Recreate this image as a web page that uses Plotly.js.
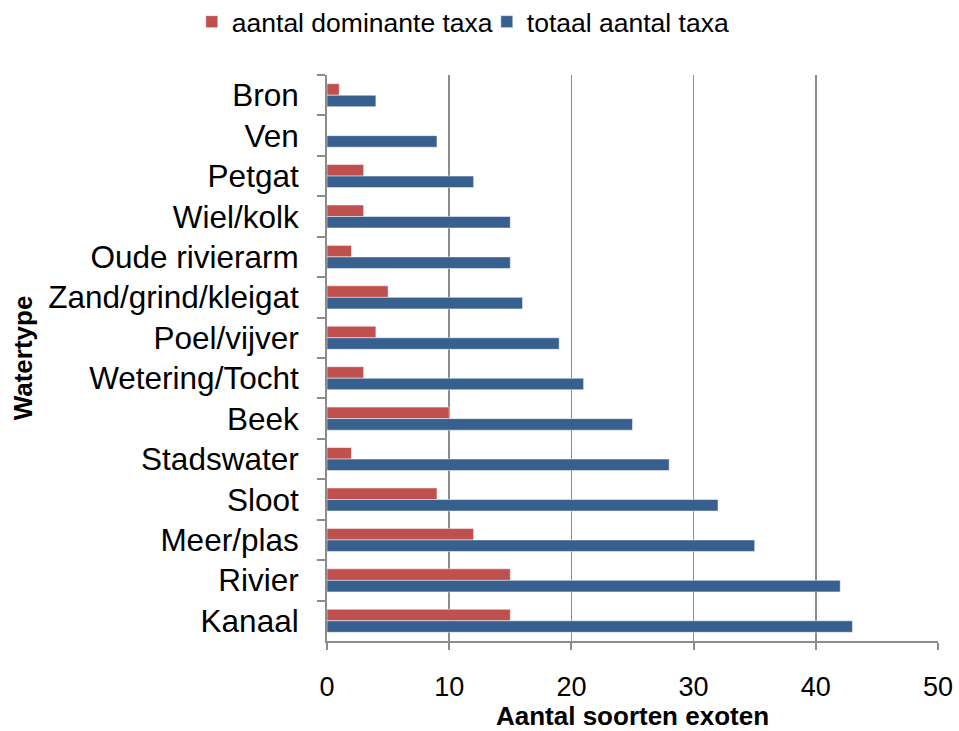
<!DOCTYPE html>
<html>
<head>
<meta charset="utf-8">
<script src="https://cdn.plot.ly/plotly-3.0.1.min.js"></script>
<style>html,body{margin:0;padding:0;background:#fff;}#chart{width:959px;height:731px;}</style>
</head>
<body>
<div id="chart"></div>
<script>
const categories = ["Bron","Ven","Petgat","Wiel/kolk","Oude rivierarm","Zand/grind/kleigat","Poel/vijver","Wetering/Tocht","Beek","Stadswater","Sloot","Meer/plas","Rivier","Kanaal"];
const dominant = [1,0,3,3,2,5,4,3,10,2,9,12,15,15];
const totaal = [4,9,12,15,15,16,19,21,25,28,32,35,42,43];
const seriesNames = ["aantal dominante taxa","totaal aantal taxa"];
const xTicks = [0,10,20,30,40,50];

const font = "Liberation Sans, Arial, sans-serif";
const traces = [
  {type:"bar", orientation:"h", name:seriesNames[0], y:categories, x:dominant,
   marker:{color:"#C0504D", line:{color:"#ffffff", width:0.5}}},
  {type:"bar", orientation:"h", name:seriesNames[1], y:categories, x:totaal,
   marker:{color:"#37608F", line:{color:"#ffffff", width:0.5}}}
];
const layout = {
  width:959, height:731,
  margin:{l:327, r:21, t:75, b:90},
  paper_bgcolor:"#fff", plot_bgcolor:"#fff",
  font:{family:font, color:"#000"},
  barmode:"group", bargap:0.43, bargroupgap:0,
  showlegend:true,
  legend:{orientation:"h", xref:"container", yref:"container", x:0.2, y:0.97, xanchor:"left", yanchor:"middle",
          font:{size:26.5, family:font}, traceorder:"normal", itemwidth:30,
          entrywidth:250, entrywidthmode:"pixels"},
  xaxis:{range:[0,50], tickvals:xTicks, ticktext:xTicks.map(String), showgrid:true, gridcolor:"#8c8c8c", gridwidth:1.5,
         showline:true, linecolor:"#8c8c8c", linewidth:2, ticks:"outside", ticklen:7, tickcolor:"#8c8c8c", tickwidth:2,
         tickfont:{size:27, family:font}, ticklabelstandoff:14, zeroline:false, fixedrange:true,
         title:{text:"<b>Aantal soorten exoten</b>", font:{size:26, family:font}, standoff:10}},
  yaxis:{type:"category", autorange:"reversed", showline:true, linecolor:"#8c8c8c", linewidth:2,
         ticks:"outside", ticklen:8, tickcolor:"#8c8c8c", tickwidth:2, tickson:"boundaries", showgrid:false,
         tickfont:{size:31.5, family:font}, ticklabelstandoff:20, fixedrange:true,
         title:{text:"<b>Watertype</b>", font:{size:26, family:font}, standoff:8}}
};
Plotly.newPlot("chart", traces, layout, {displayModeBar:false, staticPlot:true});
</script>
</body>
</html>
